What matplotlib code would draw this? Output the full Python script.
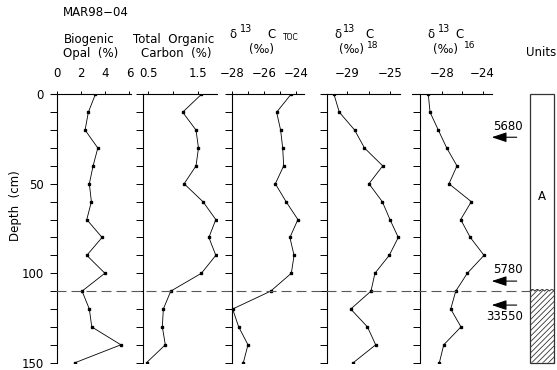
import numpy as np
import matplotlib
matplotlib.use('Agg')
import matplotlib.pyplot as plt
import matplotlib.transforms as mtransforms
from matplotlib.patches import Rectangle, Polygon

plt.rcParams['font.family'] = 'DejaVu Sans'
plt.rcParams['hatch.linewidth'] = 0.6

# depth of samples (cm)
depth = [0, 10, 20, 30, 40, 50, 60, 70, 80, 90, 100, 110, 120, 130, 140, 150]

# measured profiles
opal = [3.19, 2.61, 2.34, 3.39, 3.0, 2.69, 2.86, 2.48, 3.74, 2.48, 3.97, 2.09, 2.69, 2.89, 5.29, 1.51]
toc = [1.57, 1.19, 1.46, 1.51, 1.46, 1.22, 1.6, 1.86, 1.72, 1.86, 1.57, 0.95, 0.8, 0.78, 0.84, 0.46]
d13c_toc = [-24.33, -25.23, -24.98, -24.85, -24.79, -25.31, -24.64, -23.9, -24.4, -24.14,
            -24.31, -25.6, -27.98, -27.6, -27.02, -27.31]
d13c_18 = [-30.25, -29.75, -28.31, -27.39, -25.68, -26.97, -25.72, -25.0, -24.22, -25.07,
           -26.41, -26.78, -28.68, -27.11, -26.34, -28.44]
d13c_16 = [-29.31, -29.14, -28.33, -27.51, -26.51, -27.29, -25.11, -26.15, -25.21, -23.87,
           -25.5, -26.63, -27.12, -26.12, -27.8, -28.23]

# radiocarbon ages and their depths
ages = ['5680', '5780', '33550']
age_depth = [24, 104.4, 117.8]
boundary_depth = 110

W, H = 557, 370
FS = 8.5
fig = plt.figure(figsize=(W / 100, H / 100), dpi=100)


def fx(x):
    return x / W


def fy(y):
    return 1 - y / H


top_px, bot_px = 94.3, 362.7

# (values, left px, right px, xlim, spine position, labelled ticks, minor ticks)
panels = [
    (opal, 51, 130.7, (-0.47, 6.1), 0, [0, 2, 4, 6], []),
    (toc, 141.7, 217.3, (0.363, 1.89), 0.395, [0.5, 1.5], [1.0]),
    (d13c_toc, 226.7, 304.3, (-28.35, -23.5), -28, [-28, -26, -24], [-27, -25]),
    (d13c_18, 321.7, 400, (-31.4, -24.06), -30.9, [-29, -25], [-27]),
    (d13c_16, 411.7, 491.7, (-30.93, -23.12), -30.12, [-28, -24], [-26]),
]

axes = []
for i, (vals, x1, x2, xl, sp, major, minor) in enumerate(panels):
    ax = fig.add_axes([fx(x1), fy(bot_px), (x2 - x1) / W, (bot_px - top_px) / H])
    ax.patch.set_visible(False)
    ax.plot(vals, depth, color='black', lw=0.6, marker='s', markersize=1.8)
    ax.set_xlim(*xl)
    ax.set_ylim(150, 0)
    ax.spines['right'].set_visible(False)
    ax.spines['bottom'].set_visible(False)
    ax.spines['left'].set_position(('data', sp))
    for s in ['left', 'top']:
        ax.spines[s].set_linewidth(0.8)
    ax.xaxis.tick_top()
    ax.set_xticks(major)
    ax.set_xticks(minor, minor=True)
    ax.set_xticklabels([('%g' % v).replace('-', '\u2212') for v in major])
    ax.tick_params(axis='x', which='both', direction='out', length=2.5, width=0.7,
                   pad=8, labelsize=FS)
    ax.set_yticks(range(0, 151, 10))
    if i == 0:
        ax.set_yticklabels([str(d) if d % 50 == 0 else '' for d in range(0, 151, 10)])
    else:
        ax.set_yticklabels([])
    ax.tick_params(axis='y', direction='out', length=5, width=0.7, pad=4.5, labelsize=FS)
    axes.append(ax)

# dashed boundary line across all panels
trans = mtransforms.blended_transform_factory(fig.transFigure, axes[0].transData)
fig.add_artist(plt.Line2D([fx(56), fx(530)], [boundary_depth, boundary_depth], transform=trans,
                          color='0.35', lw=0.8, linestyle=(0, (9, 4.5))))

# units column
ua = fig.add_axes([fx(470), fy(bot_px), 87 / W, (bot_px - top_px) / H])
ua.set_xlim(0, 87)
ua.set_ylim(150, 0)
ua.axis('off')
ua.patch.set_visible(False)
xs = np.linspace(60, 84.3, 200)
ys = boundary_depth - 0.9 * np.abs(np.sin(np.pi * 5 * (xs - 60) / 24.3))
poly = np.column_stack([np.concatenate([xs, [84.3, 60]]), np.concatenate([ys, [150, 150]])])
ua.add_patch(Polygon(poly, closed=True, fill=False, hatch='//////', edgecolor='0.2', lw=0))
ua.plot(xs, ys, color='0.2', lw=0.7)
ua.add_patch(Rectangle((60, 0), 24.3, 150, fill=False, edgecolor='0.2', lw=0.9, clip_on=False))
ua.text(72.2, 57, 'A', ha='center', va='center', fontsize=FS)

text_pos = [(38.3, 18.1), (38, 97.8), (35, 124.3)]
for age, d, (tx, ty) in zip(ages, age_depth, text_pos):
    ua.annotate('', xy=(21.7, d), xytext=(46.7, d),
                arrowprops=dict(arrowstyle='-|>,head_length=0.9,head_width=0.3',
                                mutation_scale=10, color='black', lw=0.8, shrinkA=0, shrinkB=0))
    ua.text(tx, ty, age, ha='center', va='center', fontsize=FS)

# headings
fig.text(fx(63), fy(13), 'MAR98\u221204', ha='left', va='center', fontsize=FS)
fig.text(fx(89), fy(40), 'Biogenic', ha='center', va='center', fontsize=FS)
fig.text(fx(91), fy(53), 'Opal  (%)', ha='center', va='center', fontsize=FS)
fig.text(fx(174), fy(40), 'Total  Organic', ha='center', va='center', fontsize=FS)
fig.text(fx(176), fy(53), 'Carbon  (%)', ha='center', va='center', fontsize=FS)

# delta heads: (delta x, 13 x, C x, permil x, sub text, sub x, sub y, sub size)
heads = [
    (232.5, 246.5, 272, 261, 'TOC', 291, 37.5, 5.5),
    (337.5, 349, 369, 351, '18', 373, 46, 6.5),
    (430.5, 444.5, 460, 446, '16', 469.5, 46, 6.5),
]
for dx, sx, cx, px, sub, bx, by, bs in heads:
    fig.text(fx(dx), fy(35), '\u03b4', ha='center', va='center', fontsize=8.5)
    fig.text(fx(sx), fy(29), '13', ha='center', va='center', fontsize=7)
    fig.text(fx(cx), fy(35), 'C', ha='center', va='center', fontsize=FS)
    fig.text(fx(px), fy(49), '(\u2030)', ha='center', va='center', fontsize=FS)
    fig.text(fx(bx), fy(by), sub, ha='center', va='center', fontsize=bs)

fig.text(fx(526), fy(52), 'Units', ha='left', va='center', fontsize=FS)
fig.text(fx(15), fy(206), 'Depth  (cm)', ha='center', va='center', rotation=90, fontsize=FS)

fig.savefig('out.png', dpi=100)
